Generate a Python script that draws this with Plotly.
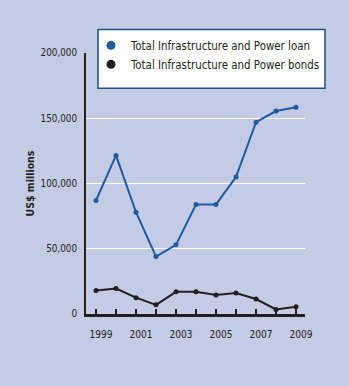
import plotly.graph_objects as go

years = [1999, 2000, 2001, 2002, 2003, 2004, 2005, 2006, 2007, 2008, 2009]
loan = [87000, 121500, 78000, 44000, 53000, 84000, 84000, 105000, 147000, 155500, 158500]
bonds = [18000, 19500, 12500, 7000, 17000, 17000, 14500, 16000, 11500, 3500, 5500]
xtick_text = ["1999", "", "2001", "", "2003", "", "2005", "", "2007", "", "2009"]
ytick_vals = [0, 50000, 100000, 150000, 200000]
ytick_text = ["0", "50,000", "100,000", "150,000", "200,000"]

BG = "#c4cbe5"
BLUE = "#1d5a9e"
DARK = "#231f20"
FONT = "DejaVu Sans Condensed, Liberation Sans Narrow, sans-serif"

fig = go.Figure()
fig.add_trace(go.Scatter(x=years, y=loan, mode="lines+markers",
                         line=dict(color=BLUE, width=2), marker=dict(size=5, color=BLUE),
                         showlegend=False))
fig.add_trace(go.Scatter(x=years, y=bonds, mode="lines+markers",
                         line=dict(color=DARK, width=2), marker=dict(size=5, color=DARK),
                         showlegend=False))
fig.add_trace(go.Scatter(x=[None], y=[None], mode="markers", name="Total Infrastructure and Power loan",
                         marker=dict(size=9, color=BLUE)))
fig.add_trace(go.Scatter(x=[None], y=[None], mode="markers", name="Total Infrastructure and Power bonds",
                         marker=dict(size=9, color=DARK)))

# legend frame (white box with blue border)
fig.add_shape(type="rect", xref="paper", yref="paper",
              x0=0.0548, x1=1.0913, y0=0.8645, y1=1.0897,
              fillcolor="white", line=dict(color="#1b4f8a", width=1.5), layer="above")

fig.update_layout(
    width=349, height=386,
    margin=dict(l=86, r=44, t=52.5, b=71.5, autoexpand=False),
    paper_bgcolor=BG, plot_bgcolor=BG,
    font=dict(family=FONT, color=DARK, size=10),
    legend=dict(x=0.0228, y=1.085, xanchor="left", yanchor="top",
                bgcolor="rgba(0,0,0,0)", borderwidth=0,
                font=dict(family=FONT, size=11.4, color=DARK),
                itemwidth=30, tracegroupgap=0),
    xaxis=dict(range=[1998.5, 2009.45], tickvals=years, ticktext=xtick_text,
               ticks="inside", ticklen=5, tickwidth=2, tickcolor=DARK,
               showline=True, linecolor=DARK, linewidth=2.5,
               showgrid=False, zeroline=False, ticklabelstandoff=9,
               ticklabelshift=5, tickangle=0,
               tickfont=dict(size=10, family=FONT, color=DARK)),
    yaxis=dict(range=[0, 200000], tickvals=ytick_vals, ticktext=ytick_text,
               ticks="", showline=True, linecolor=DARK, linewidth=2,
               showgrid=True, gridcolor="white", gridwidth=1, zeroline=False,
               ticklabelstandoff=5,
               tickfont=dict(size=9.8, family=FONT, color=DARK)),
)
fig.update_yaxes(title=dict(text="<b>US$ millions</b>", standoff=4,
                            font=dict(size=10.5, family=FONT, color=DARK)))

fig.write_html("out.html")
